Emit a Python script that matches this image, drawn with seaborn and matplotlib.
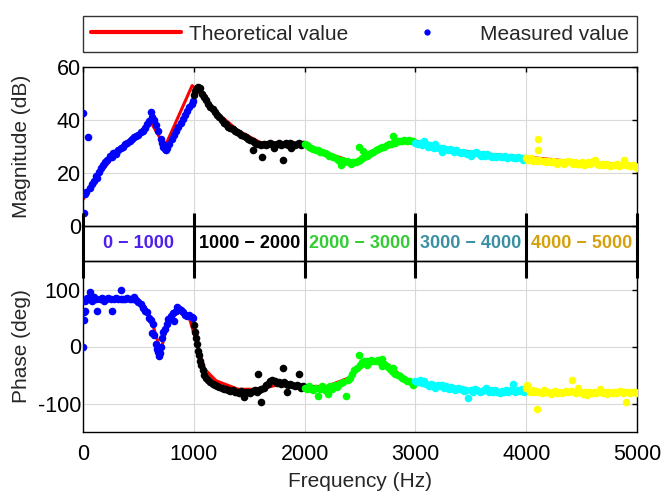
import numpy as np
import pandas as pd
import matplotlib
matplotlib.use("Agg")
import matplotlib.pyplot as plt
from matplotlib.lines import Line2D
import seaborn as sns

# theoretical curves
theo_freq_mag = [0, 100, 300, 500, 600, 740, 985, 1060, 1200, 1400, 1600, 1800, 2000,
                 2200, 2450, 2700, 2900, 3000, 3300, 3700, 4000, 4500, 5000]
theo_mag = [10, 17, 27.5, 34.5, 40, 30, 53, 50, 43, 36, 31.5, 31.5, 31,
            27.5, 24, 29, 32, 32, 29, 27, 26, 24, 23]

theo_freq_ph = [0, 500, 560, 620, 700, 780, 870, 960, 1050, 1100, 1200, 1400, 1600, 1800,
                2000, 2200, 2400, 2550, 2700, 2900, 3000, 3300, 3700, 4000, 5000]
theo_ph = [85, 82, 70, 45, -8, 50, 60, 50, -10, -40, -60, -75, -75, -65,
           -70, -70, -55, -30, -25, -55, -65, -72, -80, -82, -82]

# measured magnitude, one array pair per 1000 Hz band
mag_f0 = [0, 10, 20, 30, 45, 60, 80, 100, 120, 130, 140, 160, 180, 200, 220, 240, 260, 270,
          280, 300, 320, 340, 360, 380, 400, 420, 440, 460, 480, 500, 520, 540, 560, 580,
          600, 610, 620, 640, 660, 680, 700, 710, 720, 740, 750, 760, 780, 800, 820, 840,
          860, 880, 900, 920, 940, 960, 980, 995]
mag_v0 = [42.5, 4.8, 12, 13, 33.7, 14.5, 16, 17, 19, 18, 20.5, 22, 23, 24, 25, 26.5, 26, 27.5,
          27.5, 27, 28.5, 29.5, 30, 31, 31.5, 32, 33, 33.5, 34, 34.5, 35.5, 36, 37, 38.5,
          39.5, 43, 41, 40, 38, 36, 33, 31.5, 30, 29, 28.5, 29.5, 31, 33, 34.5, 36,
          37.5, 39, 40.5, 42, 43.5, 45, 46, 47]
mag_f1 = [1000, 1010, 1025, 1040, 1055, 1070, 1090, 1110, 1130, 1150, 1170, 1190, 1210, 1230,
          1250, 1270, 1290, 1310, 1330, 1350, 1370, 1390, 1410, 1430, 1450, 1470, 1490, 1510,
          1530, 1535, 1550, 1570, 1590, 1610, 1612, 1630, 1650, 1670, 1690, 1710, 1720, 1730,
          1750, 1770, 1790, 1805, 1810, 1830, 1850, 1870, 1880, 1890, 1910, 1930, 1950, 1970, 1990]
mag_v1 = [49.5, 51, 52, 52.5, 52, 50, 48.5, 47.5, 46, 45, 44, 43, 42, 41,
          40, 39, 38.5, 37.5, 37, 36.5, 36, 35.5, 35, 34.5, 34, 33.5, 33, 32.5,
          32, 28.5, 31.5, 31, 31, 30.5, 26, 31, 30.5, 31, 31.5, 31, 29.5, 30.5,
          31, 31.5, 30.5, 24.8, 31, 31.5, 30.5, 31.5, 29.5, 31, 30.5, 31, 31.5, 30.5, 31]
mag_f2 = [2000, 2020, 2040, 2060, 2080, 2100, 2120, 2140, 2160, 2180, 2200, 2220, 2240, 2260,
          2280, 2300, 2320, 2330, 2340, 2360, 2380, 2400, 2420, 2440, 2460, 2480, 2490, 2500,
          2520, 2530, 2540, 2560, 2580, 2600, 2620, 2640, 2660, 2680, 2700, 2720, 2740, 2760,
          2780, 2795, 2800, 2820, 2840, 2860, 2880, 2900, 2920, 2940, 2960, 2980]
mag_v2 = [31, 30.5, 30, 29.5, 29, 28.5, 28.5, 28, 28, 27.5, 27, 26.5, 26.5, 26,
          25.5, 25, 24.5, 23, 25, 24, 24.5, 24, 23.5, 24, 24, 24.5, 30, 25,
          25.5, 28.3, 26, 26.5, 27, 27.5, 28, 28.5, 29, 29.5, 30, 30, 30.5, 31,
          31, 33.8, 31.5, 31.5, 32, 32, 32, 32.5, 32, 32.5, 32, 32]
mag_f3 = [3000, 3020, 3040, 3060, 3080, 3100, 3110, 3130, 3150, 3170, 3180, 3190, 3210, 3230,
          3240, 3250, 3270, 3290, 3310, 3330, 3350, 3370, 3390, 3410, 3430, 3450, 3470, 3490,
          3500, 3510, 3530, 3550, 3570, 3590, 3610, 3630, 3650, 3670, 3690, 3710, 3730, 3750,
          3770, 3790, 3810, 3830, 3850, 3870, 3890, 3910, 3930, 3950, 3970, 3990]
mag_v3 = [31.5, 31, 31.5, 30.5, 32, 31, 30, 30.5, 30, 29.5, 30.8, 30, 29.5, 29,
          28, 29.5, 29, 28.5, 29, 28.5, 28, 28.5, 28, 27.5, 28, 27.5, 27, 27.5,
          26.5, 27, 27.5, 28, 27, 26.5, 27, 26.5, 27, 26.5, 26, 26.5, 26, 26.5,
          26, 26, 26.5, 25.5, 26, 26, 25.5, 25.5, 26, 25.5, 25, 25.5]
mag_f4 = [4000, 4020, 4040, 4060, 4080, 4100, 4105, 4108, 4120, 4140, 4160, 4180, 4200, 4220,
          4240, 4260, 4280, 4300, 4320, 4340, 4360, 4380, 4400, 4420, 4440, 4460, 4480, 4500,
          4520, 4540, 4560, 4580, 4600, 4620, 4640, 4660, 4680, 4700, 4720, 4740, 4760, 4780,
          4800, 4820, 4840, 4860, 4880, 4900, 4920, 4940, 4960, 4980, 5000]
mag_v4 = [25.5, 25, 25.5, 24.5, 25, 24.5, 32.9, 28.5, 25, 24.5, 24.5, 24, 24.5, 24,
          24.5, 24, 23.5, 24, 24, 23.5, 24, 24.5, 24, 23.5, 24, 23.5, 23.5, 24,
          23, 23.5, 24, 23.5, 24.5, 25, 23.5, 23, 23.5, 23, 23.5, 23, 22.5, 23,
          23, 23.5, 22.5, 23, 25, 23, 23, 22.5, 23, 22.5, 22]

# measured phase
ph_f0 = [0, 5, 10, 15, 20, 40, 60, 62, 80, 100, 120, 130, 150, 170, 190, 210, 230, 250, 260,
         280, 300, 320, 340, 345, 360, 380, 400, 420, 440, 460, 480, 500, 520, 540, 560, 580,
         600, 610, 620, 630, 645, 655, 665, 675, 685, 695, 705, 715, 725, 740, 755, 770,
         790, 810, 825, 840, 850, 865, 880, 900, 920, 940, 960, 980, 995]
ph_v0 = [0, 60, 47, 62, 80, 85, 84, 96, 80, 86, 84, 63, 83, 85, 80, 84, 85, 83, 63,
         84, 85, 83, 84, 99, 83, 84, 85, 83, 84, 86, 82, 78, 74, 68, 62, 60,
         50, 47, 23, 40, 20, 5, -5, -10, -17, -12, 0, 15, 25, 30, 40, 48,
         54, 58, 44, 62, 70, 66, 64, 60, 56, 54, 55, 52, 50]
ph_f1 = [1000, 1010, 1020, 1025, 1035, 1045, 1055, 1065, 1080, 1095, 1110, 1130, 1150, 1170,
         1190, 1210, 1230, 1250, 1270, 1290, 1310, 1330, 1350, 1370, 1390, 1410, 1430, 1450,
         1452, 1470, 1490, 1510, 1530, 1550, 1570, 1580, 1590, 1608, 1610, 1630, 1650, 1670,
         1690, 1710, 1730, 1750, 1770, 1790, 1807, 1810, 1830, 1843, 1850, 1870, 1890, 1910,
         1930, 1950, 1952, 1970, 1990]
ph_v1 = [38, 25, 15, 5, -8, -15, -25, -33, -42, -50, -55, -58, -62, -65,
         -67, -70, -71, -73, -74, -75, -76, -78, -77, -80, -79, -81, -78, -82,
         -88, -80, -79, -82, -78, -76, -80, -49, -77, -97, -75, -72, -68, -65,
         -60, -58, -60, -64, -62, -66, -38, -63, -65, -79, -68, -66, -67, -70,
         -68, -70, -49, -72, -70]
ph_f2 = [2000, 2020, 2040, 2060, 2080, 2100, 2120, 2140, 2160, 2180, 2200, 2210, 2230, 2250,
         2270, 2290, 2310, 2330, 2350, 2370, 2390, 2410, 2430, 2450, 2470, 2490, 2500, 2520,
         2540, 2560, 2562, 2580, 2600, 2620, 2640, 2660, 2680, 2700, 2702, 2720, 2740, 2760,
         2780, 2800, 2802, 2820, 2840, 2860, 2880, 2900, 2920, 2940, 2960, 2980]
ph_v2 = [-72, -75, -70, -74, -77, -72, -86, -74, -70, -76, -72, -83, -70, -74,
         -68, -71, -66, -64, -62, -86, -58, -55, -48, -42, -38, -15, -33, -28,
         -26, -25, -33, -28, -24, -26, -25, -23, -28, -22, -35, -30, -35, -38,
         -42, -45, -38, -48, -50, -52, -55, -57, -60, -60, -63, -68]
ph_f3 = [3000, 3020, 3040, 3060, 3080, 3100, 3120, 3140, 3160, 3180, 3200, 3220, 3240, 3260,
         3280, 3300, 3320, 3340, 3360, 3380, 3400, 3420, 3440, 3460, 3475, 3500, 3520, 3540,
         3560, 3580, 3600, 3620, 3640, 3660, 3680, 3700, 3720, 3740, 3760, 3780, 3800, 3820,
         3840, 3860, 3880, 3900, 3920, 3940, 3960, 3980]
ph_v3 = [-60, -62, -58, -64, -60, -66, -70, -65, -68, -72, -67, -70, -68, -72,
         -70, -74, -71, -73, -76, -72, -75, -74, -78, -76, -90, -77, -80, -74,
         -76, -80, -78, -76, -72, -80, -77, -79, -76, -80, -82, -78, -80, -77,
         -79, -76, -66, -80, -76, -78, -74, -79]
ph_f4 = [4000, 4010, 4030, 4050, 4070, 4090, 4100, 4120, 4140, 4160, 4180, 4200, 4220, 4240,
         4260, 4280, 4300, 4320, 4340, 4360, 4380, 4400, 4410, 4430, 4450, 4470, 4490, 4510,
         4530, 4550, 4570, 4590, 4610, 4630, 4650, 4670, 4690, 4710, 4730, 4750, 4770, 4790,
         4810, 4830, 4850, 4870, 4890, 4905, 4920, 4940, 4960, 4980, 5000]
ph_v4 = [-72, -68, -80, -76, -80, -78, -110, -80, -82, -76, -79, -80, -83, -80,
         -78, -81, -79, -82, -80, -78, -80, -78, -59, -80, -82, -72, -80, -83,
         -80, -85, -80, -82, -79, -81, -80, -74, -82, -80, -84, -80, -82, -79,
         -81, -80, -78, -82, -80, -98, -80, -82, -79, -80, -81]

band_labels = ["0 \u2212 1000", "1000 \u2212 2000", "2000 \u2212 3000",
               "3000 \u2212 4000", "4000 \u2212 5000"]
band_centers = [500, 1500, 2500, 3500, 4500]
band_text_colors = ["#4f1ff0", "#000000", "#33cc33", "#3a8fa3", "#d4a00c"]
point_colors = ["#0000ff", "#000000", "#00ff00", "#00ffff", "#ffff00"]

mag_sets = [(mag_f0, mag_v0), (mag_f1, mag_v1), (mag_f2, mag_v2), (mag_f3, mag_v3), (mag_f4, mag_v4)]
ph_sets = [(ph_f0, ph_v0), (ph_f1, ph_v1), (ph_f2, ph_v2), (ph_f3, ph_v3), (ph_f4, ph_v4)]

sns.set_style("white")
plt.rcParams['font.family'] = ['Liberation Sans', 'DejaVu Sans']
plt.rcParams['axes.unicode_minus'] = False
fs_tick = 15.5
fs_lab = 15

fig = plt.figure(figsize=(6.61, 4.97), dpi=100)
L, W = 83 / 661, 554 / 661
ax1 = fig.add_axes([L, 1 - 226 / 497, W, 159 / 497])
ax2 = fig.add_axes([L, 1 - 432 / 497, W, 171 / 497])
axb = fig.add_axes([L, 1 - 261 / 497, W, 35 / 497])


def style_axis(ax, ylim, yticks):
    ax.set_xlim(0, 5000)
    ax.set_ylim(*ylim)
    ax.set_xticks([0, 1000, 2000, 3000, 4000, 5000])
    ax.set_yticks(yticks)
    ax.grid(True, color="#d9d9d9", linewidth=0.8)
    ax.tick_params(direction="in", length=3.5, width=1, top=True, right=True,
                   labelsize=fs_tick, colors="black")
    ax.tick_params(axis="y", pad=1.5)
    ax.tick_params(axis="x", pad=8.5)
    for s in ax.spines.values():
        s.set_color("black")
        s.set_linewidth(1)
    ax.set_axisbelow(True)


# magnitude
sns.lineplot(x=theo_freq_mag, y=theo_mag, ax=ax1, color="red", linewidth=2.2, zorder=2)
for (f, v), c in zip(mag_sets, point_colors):
    sns.scatterplot(x=f, y=v, ax=ax1, color=c, s=30, linewidth=0, zorder=3)
style_axis(ax1, (0, 60), [0, 20, 40, 60])
ax1.set_xticklabels([])
ax1.set_ylabel("Magnitude (dB)", fontsize=fs_lab)

# phase
sns.lineplot(x=theo_freq_ph, y=theo_ph, ax=ax2, color="red", linewidth=2.2, zorder=2)
for (f, v), c in zip(ph_sets, point_colors):
    sns.scatterplot(x=f, y=v, ax=ax2, color=c, s=30, linewidth=0, zorder=3)
style_axis(ax2, (-150, 150), [-100, 0, 100])
ax2.set_xlabel("Frequency (Hz)", fontsize=fs_lab, labelpad=5)
ax2.set_ylabel("Phase (deg)", fontsize=fs_lab)
ax1.yaxis.set_label_coords(-0.094, 0.5)
ax2.yaxis.set_label_coords(-0.094, 0.5)

# band with frequency ranges
axb.set_xlim(0, 5000)
axb.set_ylim(0, 1)
axb.set_xticks([])
axb.set_yticks([])
axb.patch.set_alpha(0)
for side in ["left", "right"]:
    axb.spines[side].set_visible(False)
for side in ["top", "bottom"]:
    axb.spines[side].set_linewidth(1)
    axb.spines[side].set_color("black")
for xc, lab, c in zip(band_centers, band_labels, band_text_colors):
    axb.text(xc, 0.5, lab, ha="center", va="center", fontsize=13,
             fontweight="bold", color=c)
axb.vlines([0, 1000, 2000, 3000, 4000, 5000], -0.49, 1.37, color="black",
           linewidth=2.2, clip_on=False)

# legend
handles = [Line2D([], [], color="red", linewidth=3),
           Line2D([], [], color="#0000ff", marker="o", linestyle="none", markersize=3.5)]
leg = fig.legend(handles, ["Theoretical value", "Measured value"],
                 loc="lower left", bbox_to_anchor=(L, 1 - 52 / 497, W, 43 / 497),
                 ncol=2, mode="expand", fontsize=fs_lab, handlelength=4.3,
                 handletextpad=0.4, frameon=True, fancybox=False, borderaxespad=0)
leg.get_frame().set_edgecolor("black")
leg.get_frame().set_linewidth(1)

fig.savefig("out.png", dpi=100)
